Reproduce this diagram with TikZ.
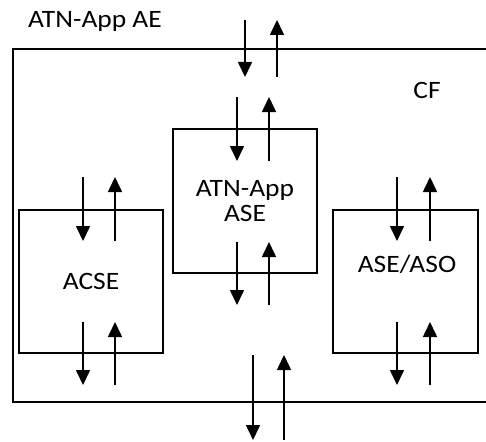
\documentclass[tikz,border=0pt]{standalone}
\usepackage{fontspec}
\setmainfont{Carlito}[FakeStretch=1.1]
\usetikzlibrary{arrows.meta}

\tikzset{
  blk/.style={draw, line width=1.6pt, inner sep=0pt},
  lbl/.style={font=\fontsize{25}{25}\selectfont, inner sep=0pt},
  flow/.style={line width=1.6pt, -{Triangle[width=14pt,length=15pt]}}
}

\begin{document}
\begin{tikzpicture}[x=1pt, y=-1pt]
  \useasboundingbox (0,0) rectangle (486,441);

  % -- Application entity frame --
  \draw[line width=1.6pt] (486,49) -- (13,49) -- (13,402) -- (486,402);
  \node[lbl, anchor=base] (title) at (95,28) {ATN-App AE};
  \node[lbl, anchor=base] (cf) at (427,99) {CF};

  % -- Service elements --
  \node[blk, lbl, minimum width=144pt, minimum height=144pt, align=center]
    (appase) at (245,201) {ATN-App\\ASE};
  \node[blk, lbl, minimum width=144pt, minimum height=143pt]
    (acse) at (91,281.5) {ACSE};
  \node[blk, minimum width=145pt, minimum height=143pt]
    (aso) at (405.5,281.5) {};
  \node[lbl, anchor=base] (asolbl) at (407,272) {ASE/ASO};

  % -- Flow pairs (down x, up x, top y, bottom y) --
  \foreach \d/\u/\t/\b [count=\i] in {245/277/20/77, 237/269/97/161,
      237/269/242/305, 83/115/177/241, 83/115/322/385,
      397/430/177/241, 397/430/322/385, 253/284/355/440} {
    \coordinate (dn\i a) at (\d,\t);
    \coordinate (dn\i b) at (\d,\b);
    \coordinate (up\i a) at (\u,\b);
    \coordinate (up\i b) at (\u,\t);
    \draw[flow] (dn\i a) -- (dn\i b);
    \draw[flow] (up\i a) -- (up\i b);
  }

\end{tikzpicture}
\end{document}
